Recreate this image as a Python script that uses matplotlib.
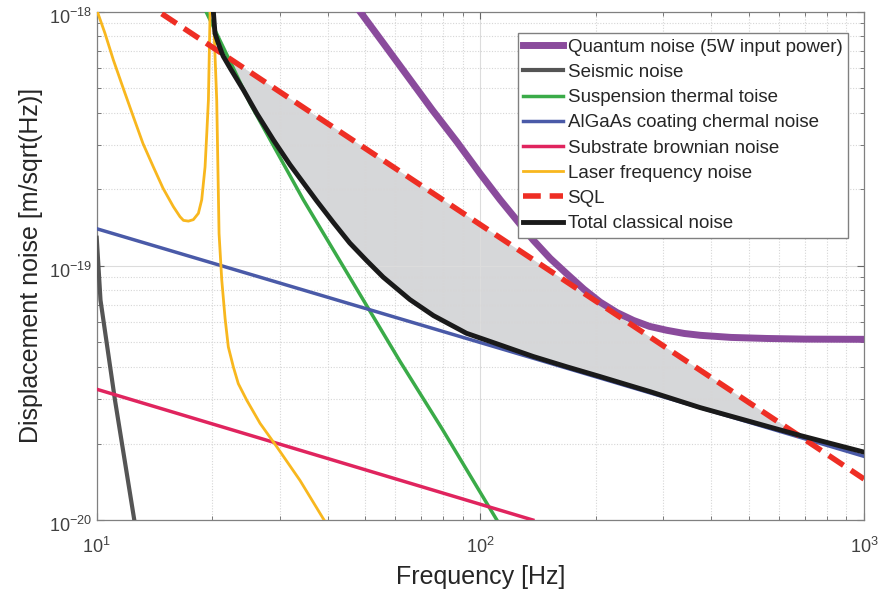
import numpy as np
import matplotlib
matplotlib.use("Agg")
import matplotlib.pyplot as plt
import matplotlib.transforms as mtransforms
from matplotlib.ticker import NullFormatter

plt.rcParams['font.family'] = ['Liberation Sans', 'DejaVu Sans']
plt.rcParams['mathtext.fontset'] = 'custom'
plt.rcParams['mathtext.rm'] = 'Liberation Sans'
plt.rcParams['mathtext.it'] = 'Liberation Sans:italic'
plt.rcParams['mathtext.bf'] = 'Liberation Sans:bold'

# noise curves (frequency in Hz, displacement in m/sqrt(Hz))
f_quantum = [48.6, 56, 64.3, 75, 86.8, 100, 112.6, 125, 137.5, 152, 168.1, 186, 205.3, 227,
             250.6, 276, 305.9, 340, 374.5, 450, 557.8, 700, 1000]
x_quantum = [1.0e-18, 7.48e-19, 5.63e-19, 4.1e-19, 3.08e-19, 2.3e-19, 1.82e-19, 1.5e-19,
             1.26e-19, 1.07e-19, 9.3e-20, 8.1e-20, 7.2e-20, 6.55e-20, 6.1e-20, 5.78e-20,
             5.58e-20, 5.42e-20, 5.33e-20, 5.23e-20, 5.18e-20, 5.15e-20, 5.14e-20]

f_seismic = [10, 10.23, 11.16, 12.53, 12.7]
x_seismic = [1.29e-19, 7.33e-20, 2.96e-20, 1.0e-20, 9.0e-21]

f_susp = [18.5, 19.28, 22.7, 25.1, 34.56, 49.56, 61.8, 79.4, 110.4, 115]
x_susp = [1.14e-18, 1.0e-18, 6.0e-19, 4.36e-19, 1.82e-19, 7.33e-20, 4.2e-20, 2.29e-20,
          1.0e-20, 9.0e-21]

f_coating = [10, 1000]
x_coating = [1.40e-19, 1.78e-20]

f_substrate = [10, 137]
x_substrate = [3.27e-20, 1.0e-20]

f_laser = [10, 10.04, 10.51, 11.05, 11.73, 12.46, 13.2, 14.05, 14.89, 15.84, 16.49, 16.83,
           17.34, 17.86, 18.41, 18.78, 19.16, 19.36, 19.55, 19.66, 19.75, 19.95,
           20.14, 20.55, 20.84, 21.18, 21.61, 22.03, 22.71, 23.39, 24.61, 26.66, 29.48,
           33.89, 38.98, 40]
x_laser = [1.03e-18, 1.0e-18, 8.22e-19, 6.46e-19, 4.99e-19, 3.86e-19, 3.03e-19, 2.45e-19,
           2.02e-19, 1.71e-19, 1.56e-19, 1.51e-19, 1.50e-19, 1.52e-19, 1.61e-19, 1.82e-19,
           2.45e-19, 3.32e-19, 4.49e-19, 7.06e-19, 1.0e-18, 5.0e-18,
           1.0e-18, 4.49e-19, 1.34e-19, 8.8e-20, 6.2e-20, 4.8e-20, 4.0e-20, 3.44e-20,
           2.96e-20, 2.40e-20, 1.94e-20, 1.43e-20, 1.01e-20, 9.5e-21]

f_sql = [10, 21.2, 682.3, 1000]
x_sql = [1.45e-18, 6.85e-19, 2.13e-20, 1.45e-20]

f_total = [20.0, 20.14, 20.34, 20.75, 21.2, 21.38, 22.27, 24.12, 26.13, 28.87, 31.9, 37.46,
           41.4, 45.67, 50.5, 55.8, 65.5, 75.5, 92.0, 112.4, 137.3, 167.8, 204.9, 250.3,
           277, 373.7, 682.3, 1000]
x_total = [1.3e-18, 1.0e-18, 8.22e-19, 7.51e-19, 6.87e-19, 6.67e-19, 6.0e-19, 4.92e-19,
           3.98e-19, 3.13e-19, 2.5e-19, 1.8e-19, 1.48e-19, 1.23e-19, 1.05e-19, 9.03e-20,
           7.37e-20, 6.37e-20, 5.43e-20, 4.89e-20, 4.40e-20, 4.01e-20, 3.67e-20, 3.35e-20,
           3.20e-20, 2.77e-20, 2.15e-20, 1.85e-20]

x_ticks = [10, 100, 1000]
y_ticks = [1e-20, 1e-19, 1e-18]

labels = ['Quantum noise (5W input power)', 'Seismic noise', 'Suspension thermal toise',
          'AlGaAs coating chermal noise', 'Substrate brownian noise', 'Laser frequency noise',
          'SQL', 'Total classical noise']

fig = plt.figure(figsize=(8.84, 5.92), dpi=100)
ax = fig.add_axes([0.1094, 0.1216, 0.868, 0.8586])

# shaded region between total classical noise and the SQL
i1 = f_total.index(21.2)
i2 = f_total.index(682.3)
poly_f = f_total[i1:i2 + 1] + [f_sql[2], f_sql[1]]
poly_x = x_total[i1:i2 + 1] + [x_sql[2], x_sql[1]]
ax.fill(poly_f, poly_x, color='#d3d4d6', alpha=0.92, lw=0, zorder=1.5)

ax.loglog(f_quantum, x_quantum, color='#8a4b9c', lw=5, label=labels[0], zorder=3)
ax.loglog(f_seismic, x_seismic, color='#555555', lw=3, label=labels[1], zorder=3)
ax.loglog(f_susp, x_susp, color='#3aab48', lw=2.5, label=labels[2], zorder=3)
ax.loglog(f_coating, x_coating, color='#4a5aa8', lw=2.5, label=labels[3], zorder=3)
ax.loglog(f_substrate, x_substrate, color='#e0245e', lw=2.5, label=labels[4], zorder=3)
ax.loglog(f_laser, x_laser, color='#f8b71e', lw=2, label=labels[5], zorder=3)
ax.loglog(f_sql, x_sql, color='#ee2e24', lw=4, ls=(0, (3.2, 1.6)), label=labels[6], zorder=3.5)
ax.loglog(f_total, x_total, color='#1a1a1a', lw=3.5, label=labels[7], zorder=4)

ax.set_xlim(10, 1000)
ax.set_ylim(1e-20, 1e-18)
ax.set_xticks(x_ticks)
ax.set_yticks(y_ticks)
ax.xaxis.set_minor_formatter(NullFormatter())
ax.yaxis.set_minor_formatter(NullFormatter())

ax.grid(True, which='major', color='#dcdcdc', lw=0.8, ls='-')
ax.grid(True, which='minor', color='#d6d6d6', lw=0.8, ls=(0, (1, 1.5)))
ax.tick_params(which='both', direction='in', top=True, right=True, colors='#666666',
               labelcolor='#404040', labelsize=13)
ax.tick_params(which='major', length=5)
ax.tick_params(which='minor', length=3)
ax.tick_params(axis='x', pad=12)
for s in ax.spines.values():
    s.set_color('#808080')
    s.set_linewidth(0.9)

# nudge y tick labels slightly down, as in the reference
shift = mtransforms.ScaledTranslation(0, -4 / 100, fig.dpi_scale_trans)
for lab in ax.get_yticklabels():
    lab.set_transform(lab.get_transform() + shift)

ax.set_xlabel('Frequency [Hz]', fontsize=18, color='#262626', labelpad=6)
ax.set_ylabel('Displacement noise [m/sqrt(Hz)]', fontsize=18, color='#262626', labelpad=4)

leg = ax.legend(loc='upper right', bbox_to_anchor=(0.979, 0.958), borderaxespad=0,
                fontsize=13.5, handlelength=2.1, handletextpad=0.25, labelspacing=0.43,
                borderpad=0.3, fancybox=False, framealpha=1)
leg.get_frame().set_edgecolor('#808080')
leg.get_frame().set_linewidth(1)
for t in leg.get_texts():
    t.set_color('#262626')

fig.savefig('out.png', dpi=100)
